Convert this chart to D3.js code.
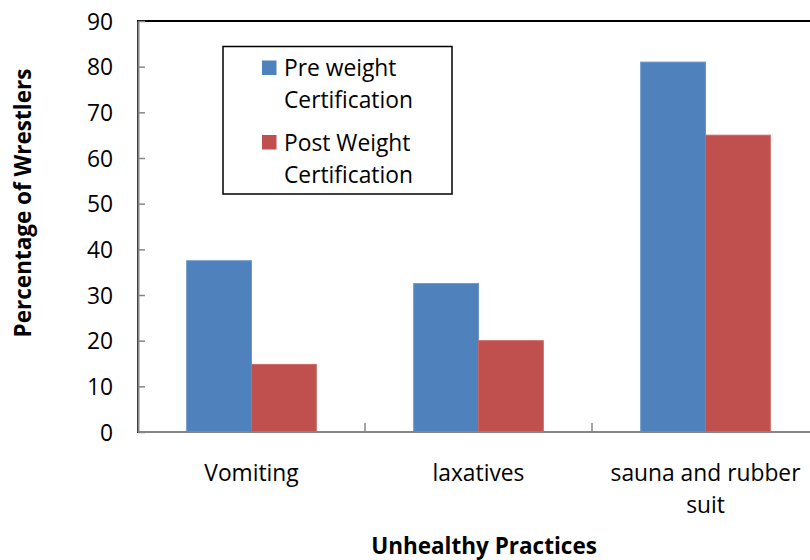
<!DOCTYPE html>
<html><head><meta charset="utf-8">
<script src="https://cdn.jsdelivr.net/npm/d3@7"></script>
<style>body{margin:0;background:#fff}svg{display:block}text{font-family:"Open Sans",sans-serif}</style>
</head><body>
<svg id="c" width="810" height="560"></svg>
<script>
const categories = [["Vomiting"], ["laxatives"], ["sauna and rubber", "suit"]];
const categoryKeys = ["Vomiting", "laxatives", "sauna and rubber suit"];
const seriesNames = [["Pre weight", "Certification"], ["Post Weight", "Certification"]];
const seriesKeys = ["pre", "post"];
const preValues = [37.5, 32.5, 81];
const postValues = [14.8, 20, 65];
const yTicks = [0, 10, 20, 30, 40, 50, 60, 70, 80, 90];
const colors = ["#4F81BD", "#C0504D"];
const strokes = ["#6A96CB", "#C96764"];

const svg = d3.select("#c");
const L = 138, R = 819, T = 21, B = 432;
const FS = 22.8;
const x0 = d3.scaleBand().domain(categoryKeys).range([L, R]).padding(0);
const bw = x0.bandwidth();
const gap = bw * 0.2145;
const x1 = d3.scaleBand().domain(seriesKeys).range([gap, bw - gap]).padding(0);
const y = d3.scaleLinear().domain([0, 90]).range([B, T]);

svg.append("rect").attr("x", L).attr("y", T).attr("width", R - L).attr("height", B - T)
  .attr("fill", "none").attr("stroke", "#000").attr("stroke-width", 2);

const vals = [preValues, postValues];
const g = svg.append("g");
categoryKeys.forEach((c, i) => {
  seriesKeys.forEach((s, j) => {
    g.append("rect")
      .attr("x", x0(c) + x1(s))
      .attr("y", y(vals[j][i]))
      .attr("width", x1.bandwidth())
      .attr("height", y(0) - y(vals[j][i]))
      .attr("fill", colors[j])
      .attr("stroke", strokes[j]).attr("stroke-width", 1);
  });
});

const yAxis = d3.axisLeft(y).tickValues(yTicks).tickSizeInner(-7).tickSizeOuter(0).tickPadding(25);
const ya = svg.append("g").attr("transform", `translate(${L},0)`).call(yAxis);
ya.select(".domain").attr("stroke", "#868686").attr("stroke-width", 2);
ya.selectAll(".tick line").attr("stroke", "#868686").attr("stroke-width", 1.5);
ya.selectAll(".tick text").attr("font-size", FS).attr("fill", "#000").attr("dy", "0.36em")
  .attr("font-family", "'Open Sans',sans-serif");

const xa = svg.append("g").attr("transform", `translate(0,${B})`);
xa.append("line").attr("x1", L).attr("x2", R).attr("y1", 0).attr("y2", 0)
  .attr("stroke", "#868686").attr("stroke-width", 2);
const bounds = categoryKeys.map(c => x0(c)).concat([R]);
xa.selectAll("line.tk").data(bounds.slice(1)).enter().append("line").attr("class", "tk")
  .attr("x1", d => d).attr("x2", d => d).attr("y1", 0).attr("y2", -9)
  .attr("stroke", "#868686").attr("stroke-width", 1.5);
categories.forEach((lines, i) => {
  const cx = x0(categoryKeys[i]) + bw / 2;
  const t = xa.append("text").attr("text-anchor", "middle").attr("font-size", FS).attr("fill", "#000");
  lines.forEach((ln, k) => {
    t.append("tspan").attr("x", cx).attr("y", 49 + k * 32).text(ln);
  });
});

svg.append("text").attr("x", 484).attr("y", 554).attr("text-anchor", "middle")
  .attr("font-size", 22.5).attr("font-weight", "bold").text("Unhealthy Practices");
svg.append("text").attr("transform", "translate(31,203) rotate(-90)").attr("text-anchor", "middle")
  .attr("font-size", 22.5).attr("font-weight", "bold").text("Percentage of Wrestlers");

const lg = svg.append("g");
lg.append("rect").attr("x", 223).attr("y", 46.5).attr("width", 229).attr("height", 147.5)
  .attr("fill", "#fff").attr("stroke", "#000").attr("stroke-width", 1.5);
seriesNames.forEach((lines, j) => {
  const top = 60.5 + j * 74.5;
  lg.append("rect").attr("x", 262).attr("y", top).attr("width", 14.5).attr("height", 14.5).attr("fill", colors[j]);
  const t = lg.append("text").attr("font-size", FS).attr("fill", "#000");
  lines.forEach((ln, k) => {
    t.append("tspan").attr("x", 284).attr("y", top + 15.5 + k * 32).text(ln);
  });
});
</script>
</body></html>
